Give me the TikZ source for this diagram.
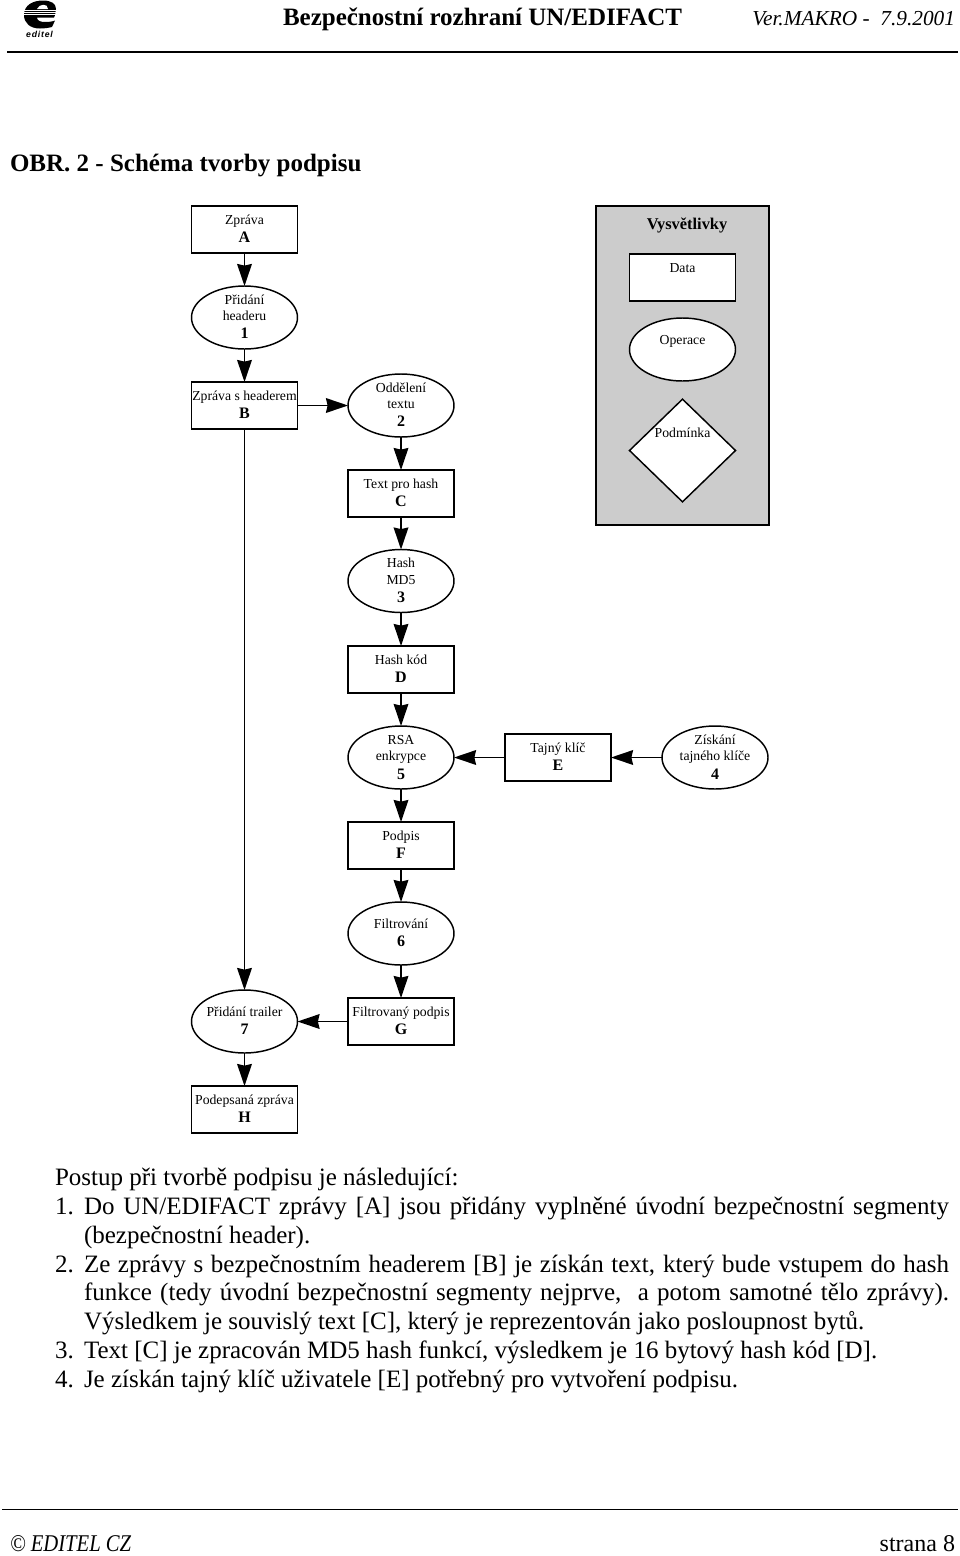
\documentclass[tikz,border=0pt]{standalone}
\usepackage{fontspec}
\setmainfont{Liberation Serif}
\newfontfamily\logofont{Liberation Sans}
\usetikzlibrary{shapes.geometric,arrows.meta}
\newcommand{\lab}[1]{\smash{\makebox[0pt]{\raisebox{-3pt}{\begin{tabular}[c]{@{}c@{}}#1\end{tabular}}}}}
\tikzset{
  x=0.75pt,y=-0.75pt,
  every node/.style={inner sep=0pt,outer sep=0pt},
  shp/.style={draw=black,line width=1.1pt,fill=white,font=\fontsize{10.3}{12.6}\selectfont},
  databox/.style={shp,rectangle,minimum width=79.5pt,minimum height=35.25pt},
  oper/.style={shp,ellipse,minimum width=79.5pt,minimum height=47.25pt},
  cond/.style={shp,diamond,minimum width=79.5pt,minimum height=77pt},
  flow/.style={draw=black,line width=1.3pt,-{Stealth[length=16.5pt,width=11pt,inset=1.2pt]}},
  rulel/.style={draw=black,line width=1.1pt},
  body/.style={anchor=base west,font=\fontsize{18.75}{22}\selectfont},
}
\begin{document}
\begin{tikzpicture}
\useasboundingbox (0,0) rectangle (960,1556);
\fill[white] (0,0) rectangle (960,1556);
% logo
\fill[black] (24,15) .. controls (24,5) and (33,0.5) .. (43,0.5) .. controls (51,0.5) and (56,3.5) .. (56,9)
  .. controls (56,12) and (55,16) .. (54,17.5) -- (37,17.5) .. controls (37,21) and (41,22) .. (45,22)
  .. controls (49,22) and (53,21.5) .. (55,20.5) -- (52,27) .. controls (48,28) and (44,28.5) .. (40,28.5)
  .. controls (30,28.5) and (24,23) .. (24,15) -- cycle;
\fill[white] (37,9) .. controls (38,6) and (41,4.8) .. (43.5,4.8) .. controls (46,4.8) and (48,6) .. (48,9) -- cycle;
\foreach \yy in {10.4,12.6,14.8}{\draw[white,line width=0.55pt] (24,\yy) -- (56.5,\yy);}
\node[anchor=base,font=\logofont\fontsize{6.5}{7}\bfseries\itshape] (logotext) at (39.5,37) {e\kern.6pt d\kern.6pt i\kern.6pt t\kern.6pt e\kern.6pt l};
% header
\node[anchor=base west,font=\fontsize{18.75}{20}\selectfont\bfseries] (head) at (283,26) {Bezpečnostní rozhraní UN/EDIFACT};
\node[anchor=base east,font=\fontsize{16}{20}\selectfont\itshape] (ver) at (955,26) {Ver.MAKRO -\ \ 7.9.2001};
\draw[rulel] (7,52) -- (958,52);
\node[anchor=base west,font=\fontsize{18.75}{20}\selectfont\bfseries] (title) at (10,171) {OBR. 2 - Schéma tvorby podpisu};
% legend
\draw[line width=1.1pt,fill=black!20] (596,206) rectangle (769,525);
\node[font=\fontsize{12.3}{14}\selectfont\bfseries] (legt) at (687,225.5) {Vysvětlivky};
\node[databox] (ldata) at (682.5,277.5) {\lab{Data\\[1pt]\mbox{}}};
\node[oper] (lop) at (682.5,349.5) {\lab{Operace\\[1pt]\mbox{}}};
\node[cond] (lcond) at (682.5,450.5) {\lab{Podmínka\\ \mbox{}\\ \mbox{}}};
% flow nodes
\node[databox] (A) at (244.5,229.5) {\lab{Zpráva\\[1pt]\textbf{\large A}}};
\node[oper] (n1) at (244.5,317.5) {\lab{Přidání\\headeru\\[1pt]\textbf{\large 1}}};
\node[databox] (B) at (244.5,405.5) {\lab{Zpráva s headerem\\[1pt]\textbf{\large B}}};
\node[oper] (n2) at (401,405.5) {\lab{Oddělení\\textu\\[1pt]\textbf{\large 2}}};
\node[databox] (C) at (401,493.5) {\lab{Text pro hash\\[1pt]\textbf{\large C}}};
\node[oper] (n3) at (401,581) {\lab{Hash\\MD5\\[1pt]\textbf{\large 3}}};
\node[databox] (D) at (401,669.5) {\lab{Hash kód\\[1pt]\textbf{\large D}}};
\node[oper] (n5) at (401,757.5) {\lab{RSA\\enkrypce\\[1pt]\textbf{\large 5}}};
\node[databox] (E) at (558,757.5) {\lab{Tajný klíč\\[1pt]\textbf{\large E}}};
\node[oper] (n4) at (715,757.5) {\lab{Získání\\tajného klíče\\[1pt]\textbf{\large 4}}};
\node[databox] (F) at (401,845.5) {\lab{Podpis\\[1pt]\textbf{\large F}}};
\node[oper] (n6) at (401,933.5) {\lab{Filtrování\\[1pt]\textbf{\large 6}}};
\node[databox] (G) at (401,1021.5) {\lab{Filtrovaný podpis\\[1pt]\textbf{\large G}}};
\node[oper] (n7) at (244.5,1021.5) {\lab{Přidání trailer\\[1pt]\textbf{\large 7}}};
\node[databox] (H) at (244.5,1109.5) {\lab{Podepsaná zpráva\\[1pt]\textbf{\large H}}};
% connectors
\draw[flow] (A) -- (n1);
\draw[flow] (n1) -- (B);
\draw[flow] (B) -- (n2);
\draw[flow] (n2) -- (C);
\draw[flow] (C) -- (n3);
\draw[flow] (n3) -- (D);
\draw[flow] (D) -- (n5);
\draw[flow] (E) -- (n5);
\draw[flow] (n4) -- (E);
\draw[flow] (n5) -- (F);
\draw[flow] (F) -- (n6);
\draw[flow] (n6) -- (G);
\draw[flow] (G) -- (n7);
\draw[flow] (B) -- (n7);
\draw[flow] (n7) -- (H);
% body text
\node[body] (t0) at (55,1185.5) {Postup při tvorbě podpisu je následující:};
\node[body] (t1n) at (55,1214.5) {1.};
\node[body] (t1) at (84,1214.5) {\hbox to 648.75pt{Do UN/EDIFACT zprávy [A] jsou přidány vyplněné úvodní bezpečnostní segmenty}};
\node[body] (t2) at (84,1243.5) {(bezpečnostní header).};
\node[body] (t3n) at (55,1272.5) {2.};
\node[body] (t3) at (84,1272.5) {\hbox to 648.75pt{Ze zprávy s bezpečnostním headerem [B] je získán text, který bude vstupem do hash}};
\node[body] (t4) at (84,1300.5) {\hbox to 648.75pt{funkce (tedy úvodní bezpečnostní segmenty nejprve,\ \ a potom samotné tělo zprávy).}};
\node[body] (t5) at (84,1329.5) {Výsledkem je souvislý text [C], který je reprezentován jako posloupnost bytů.};
\node[body] (t6n) at (55,1358.5) {3.};
\node[body] (t6) at (84,1358.5) {Text [C] je zpracován MD5 hash funkcí, výsledkem je 16 bytový hash kód [D].};
\node[body] (t7n) at (55,1387.5) {4.};
\node[body] (t7) at (84,1387.5) {Je získán tajný klíč uživatele [E] potřebný pro vytvoření podpisu.};
% footer
\draw[rulel] (2,1509.5) -- (958,1509.5);
\node[anchor=base west,font=\fontsize{18}{20}\selectfont\itshape,xscale=0.86,transform shape] (fl) at (10,1551) {© EDITEL CZ};
\node[anchor=base east,font=\fontsize{18}{20}\selectfont] (fr) at (955,1551) {strana 8};
\end{tikzpicture}
\end{document}
